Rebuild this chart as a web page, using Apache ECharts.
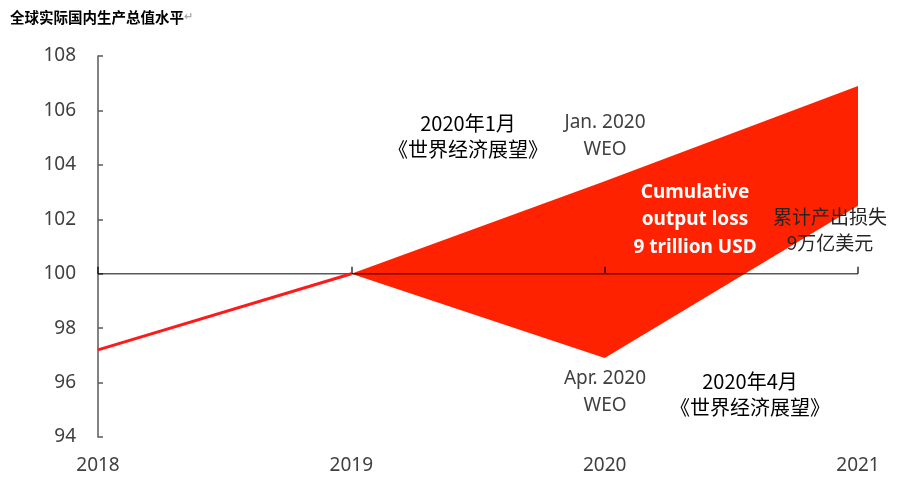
<!DOCTYPE html>
<html>
<head>
<meta charset="utf-8">
<script src="https://cdn.jsdelivr.net/npm/echarts@6/dist/echarts.min.js"></script>
<style>
html,body{margin:0;padding:0;background:#fff;}
#chart{width:913px;height:488px;}
</style>
</head>
<body>
<div id="chart"></div>
<script>
// ---- data ----
const xTicks = [2018, 2019, 2020, 2021];
const histYears = [2018, 2019];
const histValues = [97.2, 100];
const forecastYears = [2019, 2020, 2021];
const janWEO = [100, 103.4, 106.9];
const aprWEO = [100, 96.9, 102.5];
const yTicks = [94, 96, 98, 100, 102, 104, 106, 108];
const baseline = 100;

const CJK = '"Noto Sans CJK SC", "Noto Sans", sans-serif';
const LAT = '"Noto Sans", "Liberation Sans", sans-serif';
const RED = '#FF2200';
const BASE_COLOR = 'rgba(0,0,0,0.65)';

const chart = echarts.init(document.getElementById('chart'));

function txt(text, x, y, opts) {
  return {
    type: 'text', x: x, y: y, z: 20,
    style: Object.assign({
      text: text, textAlign: 'center', textVerticalAlign: 'middle',
      fontSize: 20, fontFamily: CJK, fill: '#000'
    }, opts || {})
  };
}

const option = {
  animation: false,
  backgroundColor: '#fff',
  title: {
    text: '{a|全球实际国内生产总值水平}{b|↵}',
    left: 5, top: 5,
    textStyle: {
      rich: {
        a: { fontSize: 14.5, fontFamily: CJK, color: '#000' },
        b: { fontSize: 11, fontFamily: '"DejaVu Sans", sans-serif', color: '#aaa' }
      }
    }
  },
  grid: { left: 98, right: 55, top: 56, bottom: 51, containLabel: false },
  xAxis: [
    {
      type: 'value', min: xTicks[0], max: xTicks[xTicks.length - 1], interval: 1,
      axisLine: { show: false }, axisTick: { show: false }, splitLine: { show: false },
      axisLabel: { margin: 19, fontSize: 19, fontFamily: LAT, color: '#404040',
        formatter: v => String(v) }
    },
    {
      type: 'value', min: xTicks[0], max: xTicks[xTicks.length - 1], interval: 1,
      position: 'bottom', offset: -163.3, z: 10,
      axisLine: { show: false },
      axisTick: { show: true, inside: true, length: 7, lineStyle: { color: 'rgba(0,0,0,0.8)', width: 1.5 } },
      axisLabel: { show: false }, splitLine: { show: false }
    }
  ],
  yAxis: {
    type: 'value', min: yTicks[0], max: yTicks[yTicks.length - 1], interval: 2,
    axisLine: { show: true, lineStyle: { color: '#595959', width: 1.5 } },
    axisTick: { show: true, inside: true, length: 5, lineStyle: { color: '#595959', width: 1.5 } },
    splitLine: { show: false },
    axisLabel: { margin: 22, fontSize: 19, fontFamily: LAT, color: '#404040' }
  },
  series: [
    {
      type: 'custom',
      z: 2,
      xAxisIndex: 0,
      data: [[forecastYears[0], baseline]],
      renderItem: function (params, api) {
        const pts = [];
        for (let i = 0; i < forecastYears.length; i++) pts.push(api.coord([forecastYears[i], janWEO[i]]));
        for (let i = forecastYears.length - 1; i >= 0; i--) pts.push(api.coord([forecastYears[i], aprWEO[i]]));
        const a = api.coord([forecastYears[0], baseline]);
        const b = api.coord([forecastYears[forecastYears.length - 1], baseline]);
        return {
          type: 'group',
          children: [
            { type: 'polygon', shape: { points: pts }, style: { fill: RED } },
            { type: 'line', shape: { x1: a[0], y1: a[1], x2: b[0], y2: b[1] },
              style: { stroke: BASE_COLOR, lineWidth: 1.5 } }
          ]
        };
      }
    },
    {
      type: 'line',
      z: 3,
      xAxisIndex: 0,
      data: histYears.map((y, i) => [y, histValues[i]]),
      showSymbol: false, symbol: 'none',
      lineStyle: { color: '#FF1A1A', width: 3 }
    },
    {
      type: 'line',
      z: 1,
      xAxisIndex: 0,
      data: [[xTicks[0], baseline], [xTicks[1], baseline]],
      showSymbol: false, symbol: 'none',
      lineStyle: { color: BASE_COLOR, width: 1.5 }
    }
  ],
  graphic: [
    txt('2020年1月', 468, 123, { fontSize: 20 }),
    txt('《世界经济展望》', 468, 149, { fontSize: 20 }),
    txt('Jan. 2020', 605, 123, { fontSize: 19, fontFamily: LAT, fill: '#404040' }),
    txt('WEO', 605, 150, { fontSize: 19, fontFamily: LAT, fill: '#404040' }),
    txt('Cumulative', 695, 193, { fontSize: 19, fontFamily: LAT, fontWeight: 'bold', fill: '#fff' }),
    txt('output loss', 695, 220, { fontSize: 19, fontFamily: LAT, fontWeight: 'bold', fill: '#fff' }),
    txt('9 trillion USD', 695, 248, { fontSize: 19, fontFamily: LAT, fontWeight: 'bold', fill: '#fff' }),
    txt('累计产出损失', 830, 217, { fontSize: 19, fill: '#262626' }),
    txt('9万亿美元', 830, 243, { fontSize: 19, fill: '#262626' }),
    txt('Apr. 2020', 605, 379, { fontSize: 19, fontFamily: LAT, fill: '#404040' }),
    txt('WEO', 605, 406, { fontSize: 19, fontFamily: LAT, fill: '#404040' }),
    txt('2020年4月', 750, 381, { fontSize: 20 }),
    txt('《世界经济展望》', 750, 407, { fontSize: 20 })
  ]
};
chart.setOption(option);
</script>
</body>
</html>
